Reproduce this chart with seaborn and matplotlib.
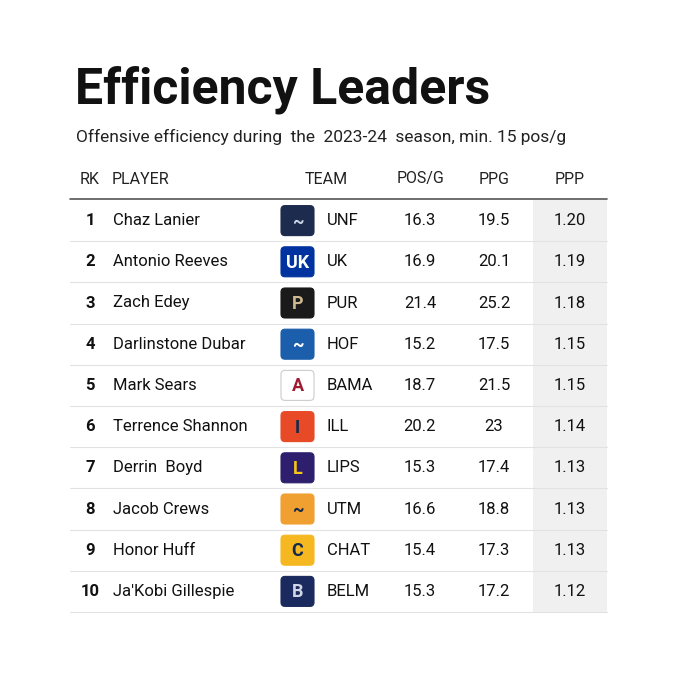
import matplotlib.pyplot as plt
import seaborn as sns
from matplotlib.patches import FancyBboxPatch, Rectangle

rank = list(range(1, 11))
players = ["Chaz Lanier", "Antonio Reeves", "Zach Edey", "Darlinstone Dubar", "Mark Sears",
           "Terrence Shannon", "Derrin  Boyd", "Jacob Crews", "Honor Huff", "Ja'Kobi Gillespie"]
teams = ["UNF", "UK", "PUR", "HOF", "BAMA", "ILL", "LIPS", "UTM", "CHAT", "BELM"]
pos_g = ["16.3", "16.9", "21.4", "15.2", "18.7", "20.2", "15.3", "16.6", "15.4", "15.3"]
ppg = ["19.5", "20.1", "25.2", "17.5", "21.5", "23", "17.4", "18.8", "17.3", "17.2"]
ppp = ["1.20", "1.19", "1.18", "1.15", "1.15", "1.14", "1.13", "1.13", "1.13", "1.12"]

# logo look: background, letter colour, letter
logo_bg = ["#1d2b4f", "#0033a0", "#1a1a1a", "#1b5eab", "#ffffff", "#e84a27", "#2e1f6e", "#f0a030", "#f5b820", "#1b2a5e"]
logo_fg = ["#c9d3e6", "#ffffff", "#cfb991", "#ffffff", "#9e1b32", "#13294b", "#f5c518", "#13294b", "#13294b", "#d0d6e6"]
logo_txt = ["~", "UK", "P", "~", "A", "I", "L", "~", "C", "B"]

sns.set_theme(style="white")
plt.rcParams['font.family'] = ['Roboto', 'DejaVu Sans']

fig = plt.figure(figsize=(6.8, 6.8), dpi=100)
ax = fig.add_axes([0, 0, 1, 1])
ax.set_xlim(0, 680)
ax.set_ylim(680, 0)
ax.axis("off")

ax.text(75, 90, "Efficiency Leaders", fontsize=36, fontweight="bold", va="center", ha="left",
        color="#111111", fontstretch="condensed")
ax.text(76, 137, "Offensive efficiency during  the  2023-24  season, min. 15 pos/g", fontsize=12.5,
        va="center", ha="left", color="#222222")

hdr_y = 179
for x, lab, ha in [(90, "RK", "center"), (112, "PLAYER", "left"), (326, "TEAM", "center"),
                   (420, "POS/G", "center"), (494, "PPG", "center"), (570, "PPP", "center")]:
    ax.text(x, hdr_y, lab, fontsize=11.5, ha=ha, va="center", color="#222222")

top, row_h = 200, 41.2
left, right = 70, 607
ax.add_patch(Rectangle((533, top), right - 533, row_h * 10, color="#f0f0f0", lw=0, zorder=0))
ax.plot([left, right], [top - 1, top - 1], color="#555555", lw=1.2)

for i in range(10):
    yc = top + row_h * (i + 0.5)
    ax.plot([left, right], [top + row_h * (i + 1)] * 2, color="#e2e2e2", lw=0.8)
    ax.text(90, yc, str(rank[i]), fontsize=12, fontweight="bold", ha="center", va="center", color="#111111")
    ax.text(113, yc, players[i], fontsize=12, ha="left", va="center", color="#111111")
    ax.add_patch(FancyBboxPatch((281, yc - 15), 33, 30, boxstyle="round,pad=0,rounding_size=4",
                                fc=logo_bg[i], ec="#cccccc" if logo_bg[i] == "#ffffff" else logo_bg[i], lw=0.8))
    ax.text(297.5, yc + 1, logo_txt[i], fontsize=13, fontweight="bold", ha="center", va="center",
            color=logo_fg[i])
    ax.text(327, yc, teams[i], fontsize=12, ha="left", va="center", color="#111111")
    ax.text(420, yc, pos_g[i], fontsize=12, ha="center", va="center", color="#111111")
    ax.text(494, yc, ppg[i], fontsize=12, ha="center", va="center", color="#111111")
    ax.text(570, yc, ppp[i], fontsize=12, ha="center", va="center", color="#111111")

fig.savefig("out.png", dpi=100, facecolor="white")
